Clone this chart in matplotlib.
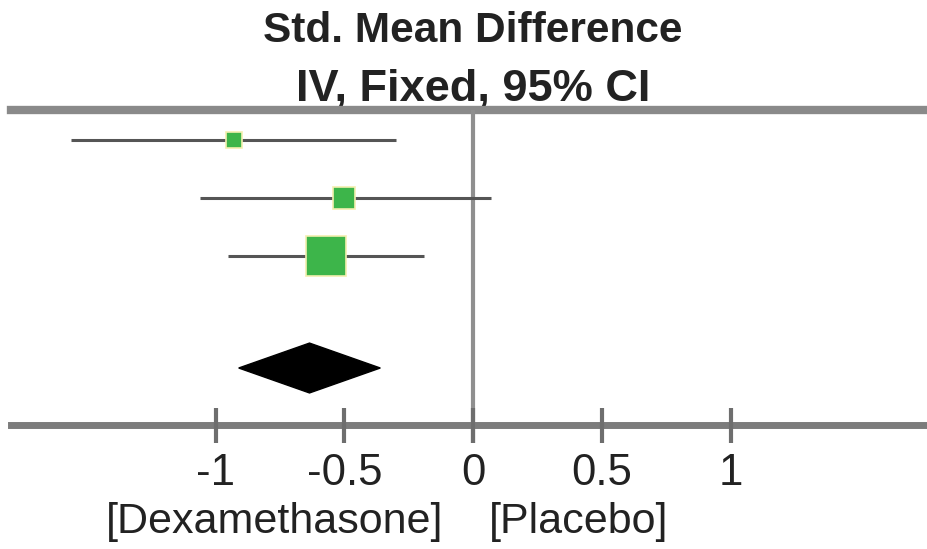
import numpy as np
import matplotlib.pyplot as plt
from matplotlib.patches import Polygon

# Study estimates (std. mean difference, 95% CI) and weights
smd = [-0.93, -0.50, -0.57]
ci_low = [-1.56, -1.06, -0.95]
ci_high = [-0.30, 0.07, -0.19]
weights = [11, 21, 68]
rows = [1, 2, 3]

# Pooled estimate
pooled = -0.635
pooled_low = -0.91
pooled_high = -0.36
pooled_row = 4.93

tick_vals = [-1, -0.5, 0, 0.5, 1]
tick_labels = ['-1', '-0.5', '0', '0.5', '1']

plt.rcParams['font.family'] = ['Liberation Sans', 'DejaVu Sans']

fig = plt.figure(figsize=(9.28, 5.49), dpi=100)
ax = fig.add_axes([0, 0, 1, 1])
ax.set_xlim(-1.837, 1.767)
ax.set_ylim(8.05, -1.414)
ax.axis('off')

top_row = 0.474
axis_row = 5.92

# frame lines
ax.axhline(top_row, xmin=0.012, xmax=1, color='#8a8a8a', lw=6, zorder=1)
ax.axhline(axis_row, xmin=0.012, xmax=1, color='#7c7c7c', lw=5, zorder=1)
ax.vlines(0, top_row, 6.22, color='#8f8f8f', lw=3, zorder=1)

# ticks
ax.vlines(tick_vals, 5.62, 6.22, color='#6e6e6e', lw=3, zorder=2)
for v, lab in zip(tick_vals, tick_labels):
    ax.text(v, 6.95, lab, ha='center', va='baseline', fontsize=31.5, color='#222222')

# study rows
for y, m, lo, hi, w in zip(rows, smd, ci_low, ci_high, weights):
    ax.plot([lo, hi], [y, y], color='#555555', lw=2.2, solid_capstyle='butt', zorder=3)
    ax.plot(m, y, marker='s', markersize=3.5 * np.sqrt(w),
            markerfacecolor='#3db54a', markeredgecolor='#f3efb0',
            markeredgewidth=1.2, zorder=4)

# pooled diamond
h = 0.43
diamond = Polygon([[pooled_low, pooled_row], [pooled, pooled_row - h],
                   [pooled_high, pooled_row], [pooled, pooled_row + h]],
                  closed=True, facecolor='black', edgecolor='black', zorder=4)
ax.add_patch(diamond)

# headings
ax.text(0, -0.69, 'Std. Mean Difference', ha='center', va='baseline',
        fontsize=30.5, fontweight='bold', color='#222222')
ax.text(0, 0.33, 'IV, Fixed, 95% CI', ha='center', va='baseline',
        fontsize=32.5, fontweight='bold', color='#222222', zorder=0)

# favours labels
ax.text(-0.115, 7.78, '[Dexamethasone]', ha='right', va='baseline', fontsize=31, color='#222222')
ax.text(0.06, 7.78, '[Placebo]', ha='left', va='baseline', fontsize=31, color='#222222')

fig.savefig('out.png', dpi=100)
